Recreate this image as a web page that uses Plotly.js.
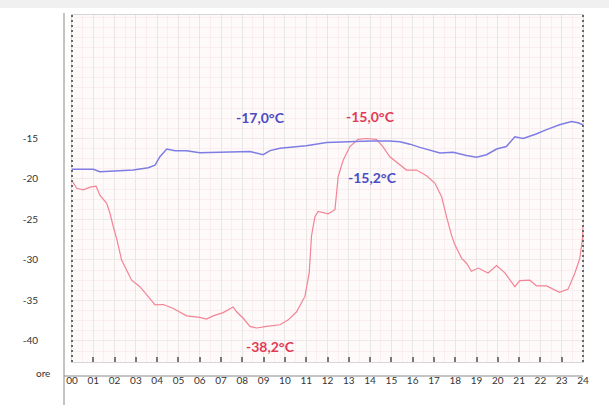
<!DOCTYPE html>
<html><head><meta charset="utf-8">
<script src="https://cdn.plot.ly/plotly-3.0.1.min.js"></script>
<style>html,body{margin:0;padding:0;background:#fff}#chart{width:609px;height:405px}</style>
</head><body><div id="chart"></div>
<script>
// hours (0-24) and temperatures (°C)
const blueHours = [0,1.0,1.31,2.1,2.88,3.58,3.9,4.13,4.45,4.84,5.38,6.0,6.8,7.42,8.36,8.98,9.3,9.77,11.0,11.96,12.9,14.0,14.9,15.4,15.87,16.34,17.28,17.9,18.53,19.0,19.47,19.94,20.4,20.8,21.19,21.8,22.29,22.9,23.46,23.77,24];
const blueTemp  = [-18.8,-18.8,-19.1,-19.0,-18.9,-18.6,-18.3,-17.25,-16.3,-16.5,-16.5,-16.75,-16.7,-16.6,-16.6,-17.0,-16.5,-16.2,-15.9,-15.5,-15.4,-15.3,-15.3,-15.4,-15.7,-16.1,-16.8,-16.7,-17.1,-17.3,-17.0,-16.3,-16.0,-14.8,-15.0,-14.45,-13.9,-13.3,-12.9,-13.05,-13.3];
const redHours = [0,0.22,0.53,0.85,1.13,1.31,1.63,1.78,1.94,2.1,2.33,2.8,3.19,3.58,3.9,4.29,4.76,5.38,6.0,6.32,6.63,7.1,7.57,7.73,8.04,8.36,8.67,9.14,9.77,10.16,10.55,10.94,11.14,11.25,11.41,11.56,12.03,12.35,12.5,12.74,13.05,13.44,13.83,14.3,14.6,14.93,15.24,15.71,16.18,16.65,17.04,17.36,17.59,17.83,17.98,18.3,18.53,18.76,19.08,19.54,19.94,20.33,20.8,21.03,21.5,21.82,22.29,22.9,23.3,23.62,23.85,23.97,24];
const redTemp  = [-20.2,-21.15,-21.35,-21.0,-20.9,-22.0,-23.0,-24.2,-25.9,-27.4,-30.0,-32.5,-33.3,-34.5,-35.55,-35.5,-36.0,-36.9,-37.1,-37.3,-36.9,-36.5,-35.8,-36.4,-37.2,-38.2,-38.4,-38.2,-38.0,-37.4,-36.4,-34.5,-31.6,-27.0,-24.65,-24.0,-24.3,-23.8,-19.7,-17.65,-16.0,-15.1,-15.0,-15.1,-16.0,-17.25,-17.9,-18.9,-18.9,-19.6,-20.5,-22.2,-24.65,-27.0,-28.1,-29.8,-30.4,-31.4,-31.0,-31.6,-30.7,-31.6,-33.3,-32.55,-32.5,-33.2,-33.2,-34.0,-33.6,-31.6,-29.8,-27.5,-25.9];
const yTicks = [-15,-20,-25,-30,-35,-40];
const yTickText = ['-15','-20','-25','-30','-35','-40'];
const xTicks = [0,1,2,3,4,5,6,7,8,9,10,11,12,13,14,15,16,17,18,19,20,21,22,23,24];
const xTickText = ['00','01','02','03','04','05','06','07','08','09','10','11','12','13','14','15','16','17','18','19','20','21','22','23','24'];
// value labels: [hour, temp, text]
const labelHours = [8.87, 14.0, 14.1, 9.3];
const labelTemps = [-12.35, -12.3, -19.8, -40.7];
const labelTexts = ['-17,0°C','-15,0°C','-15,2°C','-38,2°C'];
const labelColors = ['#4b4bc4','#e23a55','#4b4bc4','#e23a55'];

const traces = [
  {x: redHours, y: redTemp, type:'scatter', mode:'lines', line:{color:'#f28494', width:1.2}, xaxis:'x', yaxis:'y', hoverinfo:'skip'},
  {x: blueHours, y: blueTemp, type:'scatter', mode:'lines', line:{color:'#7d7de4', width:1.5}, xaxis:'x2', yaxis:'y', hoverinfo:'skip'}
];
const L = 72, R = 583, T = 15, B = 362;
const px = v => (v - L) / (R - L);
const py = v => (B - v) / (B - T);
const annotations = labelTexts.map((t,i)=>({x: labelHours[i], y: labelTemps[i], xref:'x', yref:'y', text:t, showarrow:false,
  font:{family:'Lato, sans-serif', size:14, color: labelColors[i], weight:'bold'}}));
annotations.push({x: px(34), y: py(381), xref:'paper', yref:'paper', text:'ore', showarrow:false,
  font:{family:'Lato, sans-serif', size:10, color:'#333'}});
const layout = {
  width:609, height:405,
  margin:{l:L, r:609-R, t:T, b:405-B},
  paper_bgcolor:'#ffffff', plot_bgcolor:'#fefafa',
  showlegend:false,
  xaxis:{range:[0,24], tickvals:xTicks, ticktext:xTickText, ticks:'outside', ticklen:9, tickcolor:'rgba(0,0,0,0)',
    tickfont:{family:'Lato, sans-serif', size:10, color:'#333'}, showgrid:true, gridcolor:'#ebe6e6', gridwidth:1,
    minor:{dtick:0.5, showgrid:true, gridcolor:'#fbeef0'}, zeroline:false, showline:true, linecolor:'#d6d6d6', mirror:true},
  xaxis2:{range:[0,24], overlaying:'x', anchor:'y', side:'bottom', dtick:1, tick0:0, ticks:'inside', ticklen:5, tickwidth:2,
    tickcolor:'#777', showticklabels:false, showgrid:false, zeroline:false, showline:false},
  yaxis:{range:[-42.6,0.25], tickvals:yTicks, ticktext:yTickText, ticks:'outside', ticklen:31, tickcolor:'rgba(0,0,0,0)',
    tickfont:{family:'Lato, sans-serif', size:10, color:'#333'}, showgrid:true, gridcolor:'#eee8e8',
    minor:{dtick:1.25, showgrid:true, gridcolor:'#fbeef0'}, zeroline:false, showline:true, linecolor:'#d6d6d6', mirror:true},
  shapes:[
    {type:'rect', xref:'paper', yref:'paper', x0:px(0), x1:px(609), y0:py(8), y1:py(0), fillcolor:'#f0f0f0', line:{width:0}, layer:'below'},
    {type:'line', xref:'paper', yref:'paper', x0:0, x1:0, y0:0, y1:1, line:{color:'#666', width:2, dash:'2px,3px'}},
    {type:'line', xref:'paper', yref:'paper', x0:1, x1:1, y0:0, y1:1, line:{color:'#666', width:2, dash:'2px,3px'}},
    {type:'line', xref:'paper', yref:'paper', x0:px(64), x1:px(64), y0:py(405), y1:py(13), line:{color:'#8a8a8a', width:1}},
    {type:'line', xref:'paper', yref:'paper', x0:px(64), x1:px(583), y0:py(376), y1:py(376), line:{color:'#8a8a8a', width:1}}
  ],
  annotations: annotations
};
Plotly.newPlot('chart', traces, layout, {staticPlot:true, displayModeBar:false});
</script></body></html>
